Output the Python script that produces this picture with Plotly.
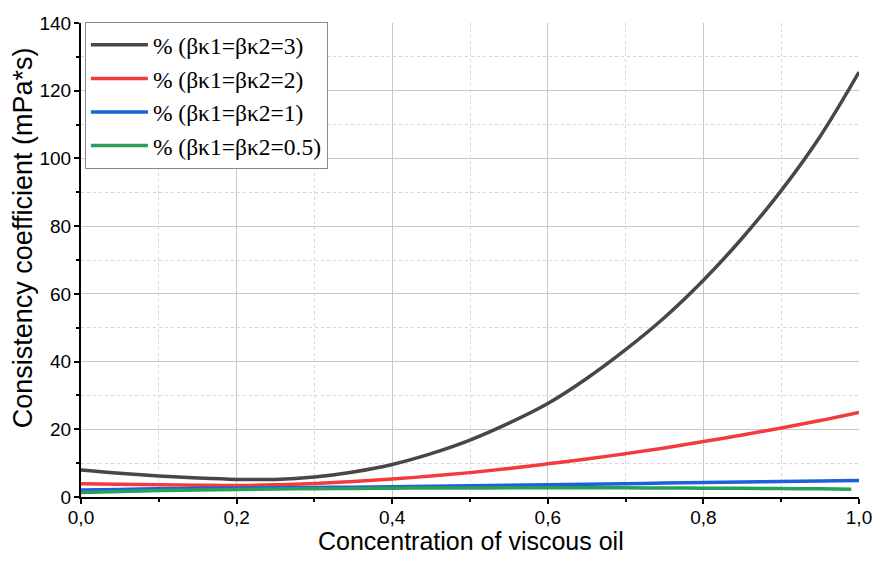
import plotly.graph_objects as go

x_vals = [0.0, 0.05, 0.1, 0.15, 0.2, 0.25, 0.3, 0.35, 0.4, 0.45, 0.5,
          0.55, 0.6, 0.65, 0.7, 0.75, 0.8, 0.85, 0.9, 0.95, 1.0]
x_green = [0.0, 0.05, 0.1, 0.15, 0.2, 0.25, 0.3, 0.35, 0.4, 0.45, 0.5,
           0.55, 0.6, 0.65, 0.7, 0.75, 0.8, 0.85, 0.9, 0.95, 0.99]

y_b3 = [8.0, 7.0, 6.2, 5.6, 5.2, 5.2, 5.9, 7.4, 9.6, 12.8, 16.8,
        21.8, 27.6, 35.0, 43.5, 53.0, 64.0, 76.5, 90.5, 106.5, 125.5]
y_b2 = [3.9, 3.8, 3.6, 3.5, 3.4, 3.6, 4.0, 4.6, 5.3, 6.2, 7.2,
        8.4, 9.8, 11.2, 12.8, 14.5, 16.4, 18.3, 20.4, 22.6, 25.0]
y_b1 = [2.1, 2.25, 2.4, 2.5, 2.6, 2.7, 2.8, 2.9, 3.0, 3.15, 3.3,
        3.45, 3.6, 3.75, 3.9, 4.1, 4.3, 4.45, 4.6, 4.75, 4.9]
y_b05 = [1.3, 1.6, 1.9, 2.1, 2.2, 2.35, 2.45, 2.5, 2.6, 2.65, 2.65,
         2.7, 2.7, 2.7, 2.7, 2.65, 2.6, 2.55, 2.5, 2.4, 2.3]

names = ["% (βκ1=βκ2=3)", "% (βκ1=βκ2=2)", "% (βκ1=βκ2=1)", "% (βκ1=βκ2=0.5)"]
colors = ["#474747", "#f23b3e", "#1c5fdf", "#28a05a"]

x_ticks = [0.0, 0.2, 0.4, 0.6, 0.8, 1.0]
x_ticktext = ["0,0", "0,2", "0,4", "0,6", "0,8", "1,0"]
y_ticks = [0, 20, 40, 60, 80, 100, 120, 140]

x_title = "Concentration of viscous oil"
y_title = "Consistency coefficient (mPa*s)"

fig = go.Figure()
series = [(x_vals, y_b3), (x_vals, y_b2), (x_vals, y_b1), (x_green, y_b05)]
for (xs, ys), nm, c in zip(series, names, colors):
    fig.add_trace(go.Scatter(x=xs, y=ys, mode="lines", name=nm,
                             line=dict(color=c, width=3.5, shape="spline")))

axis_common = dict(
    showline=True, linecolor="black", linewidth=2,
    ticks="outside", ticklen=5, tickwidth=2, tickcolor="black",
    showgrid=True, gridcolor="#c8c8c8", gridwidth=1,
    zeroline=False, mirror=False, automargin=False,
    tickfont=dict(family="Liberation Sans, Arial", size=19, color="black"),
)

fig.update_xaxes(
    range=[0, 1], tickvals=x_ticks, ticktext=x_ticktext, ticklabelstandoff=-3,
    minor=dict(dtick=0.1, ticks="outside", ticklen=3, tickwidth=2, tickcolor="black",
               showgrid=True, gridcolor="#d6d6d6", griddash="dot", gridwidth=1),
    **axis_common)
fig.update_yaxes(
    range=[0, 140], tickvals=y_ticks, ticklabelstandoff=-1,
    minor=dict(dtick=10, ticks="outside", ticklen=3, tickwidth=2, tickcolor="black",
               showgrid=True, gridcolor="#d6d6d6", griddash="dot", gridwidth=1),
    **axis_common)

fig.add_annotation(text=x_title, xref="paper", yref="paper", x=0.501, y=-0.093,
                   xanchor="center", yanchor="middle", showarrow=False,
                   font=dict(family="Liberation Sans, Arial", size=25, color="black"))
fig.add_annotation(text=y_title, xref="paper", yref="paper", x=-0.0746, y=0.548,
                   xanchor="center", yanchor="middle", showarrow=False, textangle=-90,
                   font=dict(family="Liberation Sans, Arial", size=27, color="black"))

fig.update_layout(
    width=875, height=561,
    margin=dict(l=81, r=16, t=23, b=64),
    plot_bgcolor="white", paper_bgcolor="white",
    showlegend=True,
    legend=dict(x=0.005, y=1.002, xanchor="left", yanchor="top",
                bgcolor="white", bordercolor="#8a8a8a", borderwidth=1,
                font=dict(family="Liberation Serif, Times New Roman", size=23.5, color="black"),
                itemwidth=57, tracegroupgap=0),
)

fig.write_html("out.html")
